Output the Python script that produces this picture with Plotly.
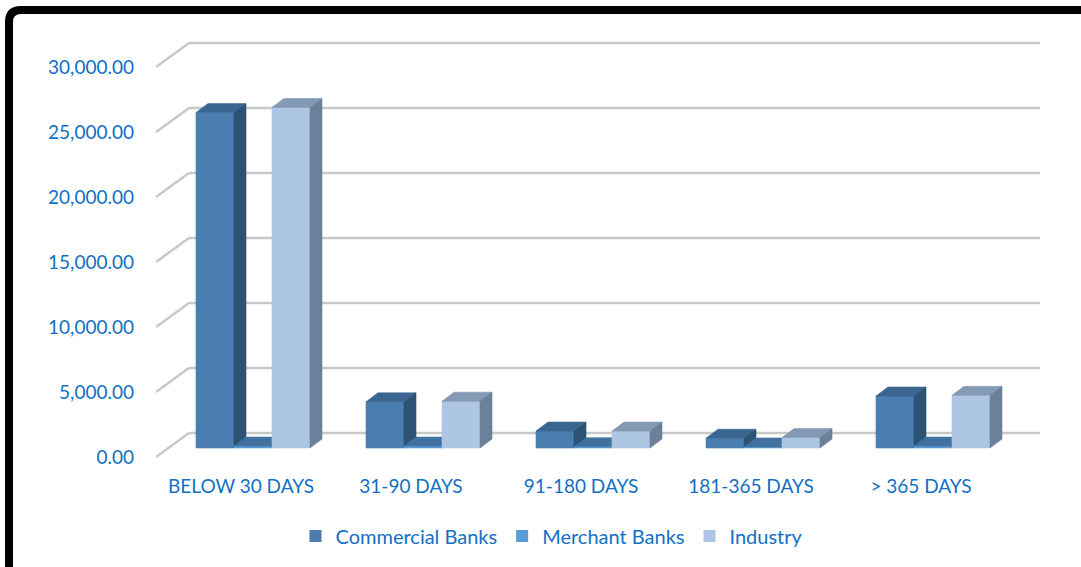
import plotly.graph_objects as go

# Data
categories = ["BELOW 30 DAYS", "31-90 DAYS", "91-180 DAYS", "181-365 DAYS", "> 365 DAYS"]
series_names = ["Commercial Banks", "Merchant Banks", "Industry"]
commercial_banks = [25800, 3550, 1300, 750, 4000]
merchant_banks = [150, 150, 100, 80, 150]
industry = [26200, 3600, 1300, 800, 4050]
y_ticks = [0, 5000, 10000, 15000, 20000, 25000, 30000]

series_values = [commercial_banks, merchant_banks, industry]

# Face colours per series: front, top, side
face_colors = [
    ("#4a7eb0", "#3a6691", "#2e5274"),
    ("#5b9bd5", "#41729f", "#34597c"),
    ("#adc6e4", "#8499b3", "#6c8199"),
]
legend_colors = ["#4a7eb0", "#5b9bd5", "#adc6e4"]
text_color = "#1270c4"
font_family = "Lato, 'Open Sans', sans-serif"

# Layout geometry (pixels)
W, H = 1081, 567
PX_L, PX_R, PX_T, PX_B = 156, 1040, 40, 460
PX_PER_CAT = 170.0
PX_PER_UNIT = 65.0 / 5000.0
ZERO_PX = 457

x_range = [-0.5, -0.5 + (PX_R - PX_L) / PX_PER_CAT]
y_range = [-(PX_B - ZERO_PX) / PX_PER_UNIT, (ZERO_PX - PX_T) / PX_PER_UNIT]

# 3D offsets converted to data units
wall_dx = 33 / PX_PER_CAT
wall_dy = 24 / PX_PER_UNIT
bar_shift_x = 12 / PX_PER_CAT
bar_shift_y = 9 / PX_PER_UNIT
bar_depth_x = 12 / PX_PER_CAT
bar_depth_y = 9 / PX_PER_UNIT
bar_w = 38 / PX_PER_CAT

fig = go.Figure()

# Legend entries
for name, col in zip(series_names, legend_colors):
    fig.add_trace(go.Bar(x=[None], y=[None], name=name, marker_color=col,
                         marker_line_width=0, showlegend=True))


def poly(xs, ys, color):
    fig.add_trace(go.Scatter(
        x=xs + [xs[0]], y=ys + [ys[0]], mode="lines", fill="toself",
        fillcolor=color, line=dict(color=color, width=0.6),
        hoverinfo="skip", showlegend=False))


# Columns drawn group by group, left to right
for i, _ in enumerate(categories):
    for s, values in enumerate(series_values):
        v = values[i]
        c = i + bar_shift_x + (s - 1) * bar_w
        xl, xr = c - bar_w / 2, c + bar_w / 2
        yb, yt = bar_shift_y, bar_shift_y + v
        front, top, side = face_colors[s]
        poly([xl, xr, xr, xl], [yb, yb, yt, yt], front)
        poly([xl, xr, xr + bar_depth_x, xl + bar_depth_x],
             [yt, yt, yt + bar_depth_y, yt + bar_depth_y], top)
        poly([xr, xr + bar_depth_x, xr + bar_depth_x, xr],
             [yb, yb + bar_depth_y, yt + bar_depth_y, yt], side)

# Back-wall gridlines with their side diagonals
shapes = []
grid_col = "#c8c8c8"
for t in y_ticks:
    shapes.append(dict(type="line", xref="x", yref="y", layer="below",
                       x0=x_range[0] + wall_dx, y0=t + wall_dy,
                       x1=x_range[1], y1=t + wall_dy,
                       line=dict(color=grid_col, width=2.6)))
    shapes.append(dict(type="line", xref="x", yref="y", layer="below",
                       x0=x_range[0], y0=t,
                       x1=x_range[0] + wall_dx, y1=t + wall_dy,
                       line=dict(color=grid_col, width=2.6)))


# Black rounded frame around the chart (pixel -> paper coords)
def px2paper(px, py):
    return (px - PX_L) / (PX_R - PX_L), (PX_B - py) / (PX_B - PX_T)


p = [px2paper(*pt) for pt in [(9, 620), (9, 22), (9, 10), (21, 10), (1120, 10)]]
frame_path = (f"M{p[0][0]},{p[0][1]} L{p[1][0]},{p[1][1]} "
              f"Q{p[2][0]},{p[2][1]} {p[3][0]},{p[3][1]} L{p[4][0]},{p[4][1]}")
shapes.append(dict(type="path", xref="paper", yref="paper", path=frame_path,
                   line=dict(color="#000000", width=8), layer="above"))

lx, ly = px2paper(552, 536)

fig.update_layout(
    width=W, height=H,
    margin=dict(l=PX_L, r=W - PX_R, t=PX_T, b=H - PX_B),
    paper_bgcolor="white", plot_bgcolor="white",
    barmode="overlay",
    showlegend=True,
    font=dict(family=font_family, color=text_color, size=19),
    xaxis=dict(range=x_range, tickvals=list(range(len(categories))),
               ticktext=categories, showgrid=False, zeroline=False,
               showline=False, ticks="", ticklabelstandoff=13,
               tickfont=dict(size=19, color=text_color, family=font_family),
               fixedrange=True),
    yaxis=dict(range=y_range, tickvals=y_ticks, tickformat=",.2f",
               showgrid=False, zeroline=False, showline=False, ticks="",
               ticklabelstandoff=21,
               tickfont=dict(size=19, color=text_color, family=font_family),
               fixedrange=True),
    legend=dict(orientation="h", x=lx, y=ly, xanchor="center", yanchor="middle",
                font=dict(size=20, color=text_color, family=font_family),
                bgcolor="rgba(0,0,0,0)", itemclick=False, itemdoubleclick=False,
                itemwidth=30),
    shapes=shapes,
)

fig.write_html("out.html")
